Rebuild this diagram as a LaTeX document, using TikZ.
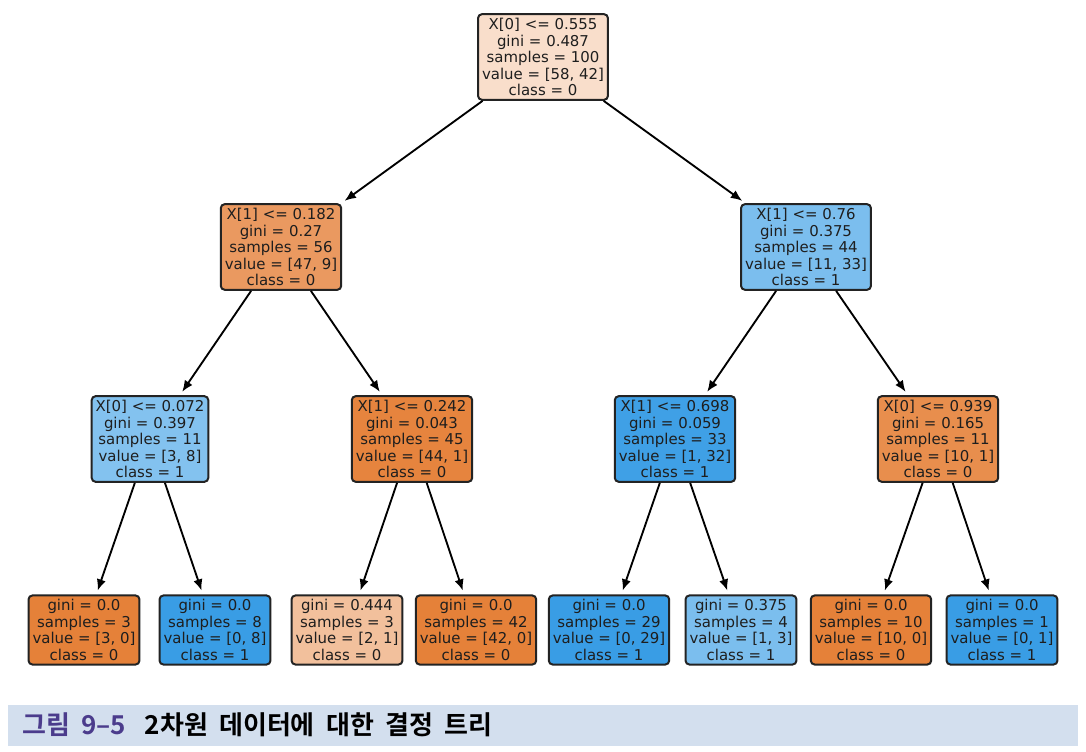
\documentclass[tikz,border=0pt]{standalone}
\usepackage{fontspec}
\setmainfont{DejaVu Sans}
\newfontfamily\kr{Noto Sans CJK KR}[BoldFont={Noto Sans CJK KR Bold}, WordSpace=1.9]
\usetikzlibrary{arrows.meta}

\definecolor{c0}{RGB}{229,129,57}
\definecolor{c1}{RGB}{57,157,229}
\definecolor{rootfill}{RGB}{249,222,203}
\definecolor{lfill}{RGB}{234,153,96}
\definecolor{rfill}{RGB}{123,190,238}
\definecolor{llfill}{RGB}{131,194,239}
\definecolor{lrfill}{RGB}{230,132,62}
\definecolor{rlfill}{RGB}{63,160,230}
\definecolor{rrfill}{RGB}{232,142,77}
\definecolor{mixfill}{RGB}{242,192,156}
\definecolor{edgegray}{RGB}{35,35,35}
\definecolor{txtgray}{RGB}{30,30,30}
\definecolor{bandblue}{RGB}{211,223,238}
\definecolor{figpurple}{RGB}{75,60,140}

\tikzset{
  treenode/.style={draw=edgegray, line width=1.5pt, rounded corners=3pt,
    align=center, inner sep=3pt, text=txtgray,
    font=\fontsize{11.2}{12.4}\selectfont},
  edge/.style={-{Latex[length=8.5pt,width=7pt]}, line width=1.4pt, shorten >=3pt}
}

\begin{document}
\begin{tikzpicture}[x=0.75pt, y=-0.75pt]
  \useasboundingbox (0,0) rectangle (1086,752);

  \node[treenode, fill=rootfill] (R) at (543, 57) {X[0] <= 0.555\\gini = 0.487\\samples = 100\\value = [58, 42]\\class = 0};

  \node[treenode, fill=lfill] (A) at (281, 247) {X[1] <= 0.182\\gini = 0.27\\samples = 56\\value = [47, 9]\\class = 0};
  \node[treenode, fill=rfill] (B) at (806, 247) {X[1] <= 0.76\\gini = 0.375\\samples = 44\\value = [11, 33]\\class = 1};

  \node[treenode, fill=llfill] (A1) at (150, 439) {X[0] <= 0.072\\gini = 0.397\\samples = 11\\value = [3, 8]\\class = 1};
  \node[treenode, fill=lrfill] (A2) at (412, 439) {X[1] <= 0.242\\gini = 0.043\\samples = 45\\value = [44, 1]\\class = 0};
  \node[treenode, fill=rlfill] (B1) at (675, 439) {X[1] <= 0.698\\gini = 0.059\\samples = 33\\value = [1, 32]\\class = 1};
  \node[treenode, fill=rrfill] (B2) at (938, 439) {X[0] <= 0.939\\gini = 0.165\\samples = 11\\value = [10, 1]\\class = 0};

  \node[treenode, fill=c0] (A11) at (84, 630) {gini = 0.0\\samples = 3\\value = [3, 0]\\class = 0};
  \node[treenode, fill=c1] (A12) at (215, 630) {gini = 0.0\\samples = 8\\value = [0, 8]\\class = 1};
  \node[treenode, fill=mixfill] (A21) at (347, 630) {gini = 0.444\\samples = 3\\value = [2, 1]\\class = 0};
  \node[treenode, fill=c0] (A22) at (476, 630) {gini = 0.0\\samples = 42\\value = [42, 0]\\class = 0};
  \node[treenode, fill=c1] (B11) at (609, 630) {gini = 0.0\\samples = 29\\value = [0, 29]\\class = 1};
  \node[treenode, fill=rfill] (B12) at (741, 630) {gini = 0.375\\samples = 4\\value = [1, 3]\\class = 1};
  \node[treenode, fill=c0] (B21) at (871, 630) {gini = 0.0\\samples = 10\\value = [10, 0]\\class = 0};
  \node[treenode, fill=c1] (B22) at (1002, 630) {gini = 0.0\\samples = 1\\value = [0, 1]\\class = 1};

  \foreach \p/\c in {R/A, R/B, A/A1, A/A2, B/B1, B/B2,
                     A1/A11, A1/A12, A2/A21, A2/A22,
                     B1/B11, B1/B12, B2/B21, B2/B22}
    \draw[edge] (\p) -- (\c);

  % caption band
  \fill[bandblue] (8, 705) rectangle (1078, 746);
  \node[anchor=west, inner sep=0pt, font=\kr\bfseries\fontsize{19.5}{22}\selectfont] (CAP) at (22, 725)
    {\textcolor{figpurple}{그림 9–5}\hspace{14pt}2차원 데이터에 대한 결정 트리};
\end{tikzpicture}
\end{document}
